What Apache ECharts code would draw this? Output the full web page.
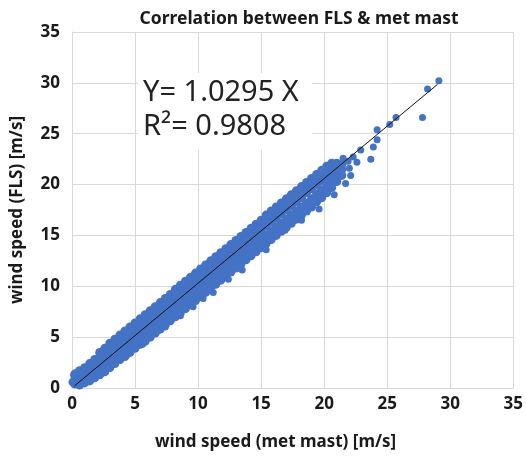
<!DOCTYPE html>
<html>
<head>
<meta charset="utf-8">
<script src="https://cdn.jsdelivr.net/npm/echarts@6/dist/echarts.min.js"></script>
<style>
  html, body { margin: 0; padding: 0; background: #fff; }
  #chart { width: 526px; height: 460px; }
</style>
</head>
<body>
<div id="chart"></div>
<script>
// wind speed pairs: [met mast, FLS...] per column of the dense band
const bandColumns = [
  [0.2, 0.4, 0.8, 1.3],
  [0.6, 0.3, 0.8, 1.3, 1.7],
  [1.0, 0.5, 1.0, 1.5, 2.0],
  [1.4, 0.7, 1.3, 1.9, 2.4],
  [1.8, 1.0, 1.6, 2.2, 2.8],
  [2.2, 1.3, 1.9, 2.5, 3.1, 3.5],
  [2.6, 1.6, 2.3, 2.9, 3.5, 3.9],
  [3.0, 2.0, 2.6, 3.2, 3.8, 4.4],
  [3.4, 2.4, 3.0, 3.6, 4.2, 4.8],
  [3.8, 2.8, 3.4, 4.0, 4.6, 5.2],
  [4.2, 3.1, 3.8, 4.4, 5.0, 5.6],
  [4.6, 3.5, 4.2, 4.8, 5.4, 6.0],
  [5.0, 3.9, 4.5, 5.2, 5.8, 6.4],
  [5.4, 4.3, 4.9, 5.6, 6.2, 6.8],
  [5.8, 4.6, 5.3, 6.0, 6.6, 7.2],
  [6.2, 5.0, 5.7, 6.4, 7.0, 7.6],
  [6.6, 5.4, 6.1, 6.8, 7.4, 8.0],
  [7.0, 5.8, 6.5, 7.2, 7.8, 8.4],
  [7.4, 6.2, 6.9, 7.6, 8.2, 8.8],
  [7.8, 6.6, 7.3, 8.0, 8.6, 9.2],
  [8.2, 7.0, 7.7, 8.4, 9.0, 9.7],
  [8.6, 7.4, 8.1, 8.8, 9.5, 10.1],
  [9.0, 7.8, 8.5, 9.3, 9.9, 10.5],
  [9.4, 8.2, 8.9, 9.7, 10.3, 10.9],
  [9.8, 8.6, 9.3, 10.1, 10.7, 11.3],
  [10.2, 9.0, 9.8, 10.5, 11.1, 11.7],
  [10.6, 9.4, 10.2, 10.9, 11.5, 12.1],
  [11.0, 9.8, 10.6, 11.3, 11.9, 12.5],
  [11.4, 10.2, 11.0, 11.7, 12.3, 12.9],
  [11.8, 10.6, 11.4, 12.2, 12.8, 13.3],
  [12.2, 11.0, 11.8, 12.6, 13.2, 13.7],
  [12.6, 11.4, 12.2, 13.0, 13.6, 14.1],
  [13.0, 11.8, 12.6, 13.4, 14.0, 14.5],
  [13.4, 12.2, 13.0, 13.8, 14.4, 14.9],
  [13.8, 12.6, 13.4, 14.2, 14.8, 15.3],
  [14.2, 13.0, 13.8, 14.6, 15.2, 15.7],
  [14.6, 13.4, 14.2, 15.0, 15.6, 16.1],
  [15.0, 13.8, 14.6, 15.4, 16.0, 16.5],
  [15.4, 14.2, 15.0, 15.9, 16.5, 17.0],
  [15.8, 14.6, 15.4, 16.3, 16.9, 17.4],
  [16.2, 15.0, 15.8, 16.7, 17.3, 17.8],
  [16.6, 15.4, 16.2, 17.1, 17.7, 18.2],
  [17.0, 15.8, 16.6, 17.5, 18.1, 18.6],
  [17.4, 16.2, 17.0, 17.9, 18.5, 19.0],
  [17.8, 16.6, 17.4, 18.3, 18.9, 19.4],
  [18.2, 17.0, 17.8, 18.7, 19.3, 19.8],
  [18.6, 17.4, 18.2, 19.2, 19.8, 20.2],
  [19.0, 17.8, 18.6, 19.6, 20.2, 20.6],
  [19.4, 18.3, 19.1, 20.0, 20.6, 21.0],
  [19.8, 18.7, 19.5, 20.4, 21.0, 21.4],
  [20.2, 19.2, 20.0, 20.8, 21.4, 21.8],
  [20.6, 19.7, 20.4, 21.2, 21.8, 22.1],
  [21.0, 20.3, 20.9, 21.6, 22.1],
  [21.4, 20.9, 21.5, 22.0]
];

// stray points around and above the band
const outlierPoints = [
  [0.0, 0.6], [0.25, 1.5], [4.4, 3.3], [5.6, 4.3], [6.8, 5.6], [7.4, 6.0],
  [8.6, 7.1], [9.6, 8.0], [10.4, 8.8], [11.2, 9.4], [12.4, 10.7],
  [13.5, 11.6], [15.4, 13.6], [16.9, 15.5], [18.2, 16.5], [19.6, 17.6],
  [20.8, 19.0], [21.7, 20.1], [22.1, 20.9], [14.5, 15.9], [15.6, 16.9],
  [16.2, 17.6], [17.2, 18.4], [19.3, 20.6], [21.5, 22.6], [21.9, 22.3],
  [22.3, 22.7], [22.0, 21.6], [22.6, 22.2], [22.9, 23.4], [23.7, 22.5],
  [23.9, 23.7], [24.2, 24.4], [24.2, 25.4], [25.2, 25.9], [25.7, 26.6],
  [27.8, 26.6], [28.2, 29.4], [29.1, 30.2]
];

// regression line Y = 1.0295 X
const trendLine = [[0.2, 0.21], [29.0, 29.86]];

const axisTicks = [0, 5, 10, 15, 20, 25, 30, 35];

const titleText = 'Correlation between FLS & met mast';
const xAxisName = 'wind speed (met mast) [m/s]';
const yAxisName = 'wind speed (FLS) [m/s]';
const fitLines = ['Y= 1.0295 X', 'R\u00b2= 0.9808'];

const bandPoints = [];
for (const col of bandColumns) {
  for (let i = 1; i < col.length; i++) bandPoints.push([col[0], col[i]]);
}

const FONT = '"Noto Sans", "DejaVu Sans", sans-serif';
const GRID_COLOR = '#d9d9d9';
const TEXT_COLOR = '#1a1a1a';
const DOT_COLOR = '#4472c4';

const chart = echarts.init(document.getElementById('chart'), null, { renderer: 'canvas' });

const axisBase = {
  type: 'value',
  min: axisTicks[0],
  max: axisTicks[axisTicks.length - 1],
  interval: axisTicks[1] - axisTicks[0],
  axisLine: { show: true, lineStyle: { color: GRID_COLOR, width: 1 } },
  axisTick: { show: false },
  splitLine: { show: true, lineStyle: { color: GRID_COLOR, width: 1 } },
  nameLocation: 'middle',
  nameTextStyle: { fontFamily: FONT, fontSize: 17, fontWeight: 'bold', color: TEXT_COLOR },
  axisLabel: { fontFamily: FONT, fontSize: 17, fontWeight: 'bold', color: TEXT_COLOR }
};

chart.setOption({
  animation: false,
  backgroundColor: '#fff',
  title: {
    text: titleText,
    left: 294,
    textAlign: 'center',
    top: 5,
    textStyle: { fontFamily: FONT, fontSize: 17.5, fontWeight: 'bold', color: TEXT_COLOR }
  },
  grid: { left: 72, right: 10, top: 32, bottom: 72 },
  xAxis: Object.assign({}, axisBase, {
    name: xAxisName,
    nameGap: 46,
    nameTextStyle: Object.assign({}, axisBase.nameTextStyle, { padding: [0, 34, 0, 0] }),
    axisLabel: Object.assign({}, axisBase.axisLabel, { margin: 8 })
  }),
  yAxis: Object.assign({}, axisBase, {
    name: yAxisName,
    nameGap: 46,
    axisLabel: Object.assign({}, axisBase.axisLabel, { margin: 12 })
  }),
  series: [
    {
      type: 'scatter',
      data: bandPoints,
      symbol: 'circle',
      symbolSize: 9,
      itemStyle: { color: DOT_COLOR, opacity: 1 },
      z: 2
    },
    {
      type: 'scatter',
      data: outlierPoints,
      symbol: 'circle',
      symbolSize: 7,
      itemStyle: { color: DOT_COLOR, opacity: 1 },
      z: 2
    },
    {
      type: 'line',
      data: trendLine,
      symbol: 'none',
      lineStyle: { color: '#111', width: 1 },
      z: 3
    }
  ],
  graphic: [
    {
      type: 'rect',
      shape: { x: 138, y: 73, width: 174, height: 77 },
      style: { fill: '#fff' },
      z: 10
    },
    {
      type: 'text',
      x: 143, y: 93,
      style: { text: fitLines[0], font: '29px ' + FONT, fill: '#222', verticalAlign: 'middle' },
      z: 11
    },
    {
      type: 'text',
      x: 143, y: 127,
      style: { text: fitLines[1], font: '29px ' + FONT, fill: '#222', verticalAlign: 'middle' },
      z: 11
    }
  ]
});
</script>
</body>
</html>
